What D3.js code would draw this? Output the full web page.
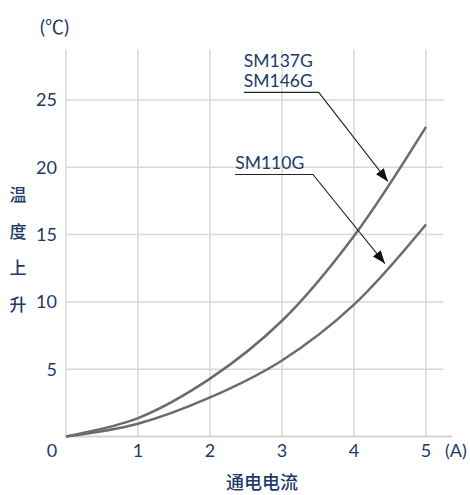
<!DOCTYPE html>
<html>
<head>
<meta charset="utf-8">
<script src="https://cdn.jsdelivr.net/npm/d3@7"></script>
<style>
  body { margin: 0; background: #fff; }
  text { font-family: Lato, "Noto Sans CJK SC", sans-serif; fill: #213a69; }
  .cjk { font-family: "Noto Sans CJK SC", sans-serif; font-weight: 500; }
</style>
</head>
<body>
<svg id="chart" width="470" height="495"></svg>
<script>
var width = 470;
var height = 495;

// current (A)
var current = [0, 1, 2, 3, 4, 5];
// temperature rise (°C)
var sm137g = [0, 1.37, 4.3, 8.6, 14.9, 23.0];
var sm110g = [0, 0.95, 2.9, 5.65, 9.8, 15.75];

var xTicks = [0, 1, 2, 3, 4, 5];
var yTicks = [5, 10, 15, 20, 25];

var yTitle = ["温", "度", "上", "升"];
var xTitle = "通电电流";

var labels = [
  { lines: ["SM137G", "SM146G"], start: 2.47, corner: [3.51, 25.57], tip: [4.47, 18.95] },
  { lines: ["SM110G"], start: 2.35, corner: [3.43, 19.47], tip: [4.43, 12.85] }
];

var x = d3.scaleLinear().domain([0, 5]).range([66, 426]);
var y = d3.scaleLinear().domain([0, 25]).range([436.5, 100]);

var svg = d3.select("#chart");

svg.append("defs").append("marker")
  .attr("id", "arrow")
  .attr("viewBox", "0 0 10 10")
  .attr("refX", 10)
  .attr("refY", 5)
  .attr("markerWidth", 13)
  .attr("markerHeight", 13)
  .attr("markerUnits", "userSpaceOnUse")
  .attr("orient", "auto")
  .append("path")
  .attr("d", "M0,1.2L10,5L0,8.8Z")
  .attr("fill", "#111");

// grid
svg.selectAll(".vgrid")
  .data(xTicks.slice(1))
  .enter().append("line")
  .attr("x1", function(d) { return x(d); })
  .attr("x2", function(d) { return x(d); })
  .attr("y1", y(0))
  .attr("y2", y(28.75))
  .attr("stroke", "#d9d9d9")
  .attr("stroke-width", 1.5);

svg.selectAll(".hgrid")
  .data(yTicks)
  .enter().append("line")
  .attr("x1", x(0))
  .attr("x2", x(5.24))
  .attr("y1", function(d) { return y(d); })
  .attr("y2", function(d) { return y(d); })
  .attr("stroke", "#d9d9d9")
  .attr("stroke-width", 1.5);

// axes lines
svg.append("line")
  .attr("x1", x(0)).attr("x2", x(0))
  .attr("y1", y(0)).attr("y2", y(28.75))
  .attr("stroke", "#d9d9d9").attr("stroke-width", 1.5);

svg.append("line")
  .attr("x1", x(0)).attr("x2", x(5.36))
  .attr("y1", y(0)).attr("y2", y(0))
  .attr("stroke", "#d4d4d4").attr("stroke-width", 2);

// tick labels
svg.selectAll(".ylab")
  .data(yTicks)
  .enter().append("text")
  .attr("x", 57)
  .attr("y", function(d) { return y(d); })
  .attr("dy", "0.36em")
  .attr("text-anchor", "end")
  .style("font-size", "18px")
  .text(function(d) { return d; });

svg.selectAll(".xlab")
  .data(xTicks)
  .enter().append("text")
  .attr("x", function(d) { return d === 0 ? 52 : x(d); })
  .attr("y", 457)
  .attr("text-anchor", "middle")
  .style("font-size", "18px")
  .text(function(d) { return d; });

svg.append("text")
  .attr("x", 445).attr("y", 457)
  .style("font-size", "18px")
  .text("(A)");

svg.append("text")
  .attr("x", 40).attr("y", 34)
  .style("font-size", "19px")
  .text("(℃)");

// axis titles
svg.selectAll(".ytitle")
  .data(yTitle)
  .enter().append("text")
  .attr("class", "cjk")
  .attr("x", 18)
  .attr("y", function(d, i) { return 201 + i * 36.5; })
  .attr("text-anchor", "middle")
  .style("font-size", "17px")
  .text(function(d) { return d; });

svg.append("text")
  .attr("class", "cjk")
  .attr("x", 262)
  .attr("y", 489)
  .attr("text-anchor", "middle")
  .style("font-size", "18px")
  .text(xTitle);

// curves
var line = d3.line()
  .x(function(d) { return x(d[0]); })
  .y(function(d) { return y(d[1]); })
  .curve(d3.curveCatmullRom);

[sm137g, sm110g].forEach(function(series) {
  svg.append("path")
    .datum(current.map(function(c, i) { return [c, series[i]]; }))
    .attr("d", line)
    .attr("fill", "none")
    .attr("stroke", "#6b6b6b")
    .attr("stroke-width", 2.5);
});

// annotations
var lineGap = 20.5;
labels.forEach(function(l) {
  var n = l.lines.length;
  l.lines.forEach(function(s, i) {
    svg.append("text")
      .attr("x", x(l.start))
      .attr("y", y(l.corner[1]) - 5 - (n - 1 - i) * lineGap)
      .style("font-size", "17.5px")
      .text(s);
  });
  svg.append("polyline")
    .attr("points", [
      [x(l.start), y(l.corner[1])],
      [x(l.corner[0]), y(l.corner[1])],
      [x(l.tip[0]), y(l.tip[1])]
    ].map(function(p) { return p.join(","); }).join(" "))
    .attr("fill", "none")
    .attr("stroke", "#222")
    .attr("stroke-width", 1.1)
    .attr("marker-end", "url(#arrow)");
});
</script>
</body>
</html>
